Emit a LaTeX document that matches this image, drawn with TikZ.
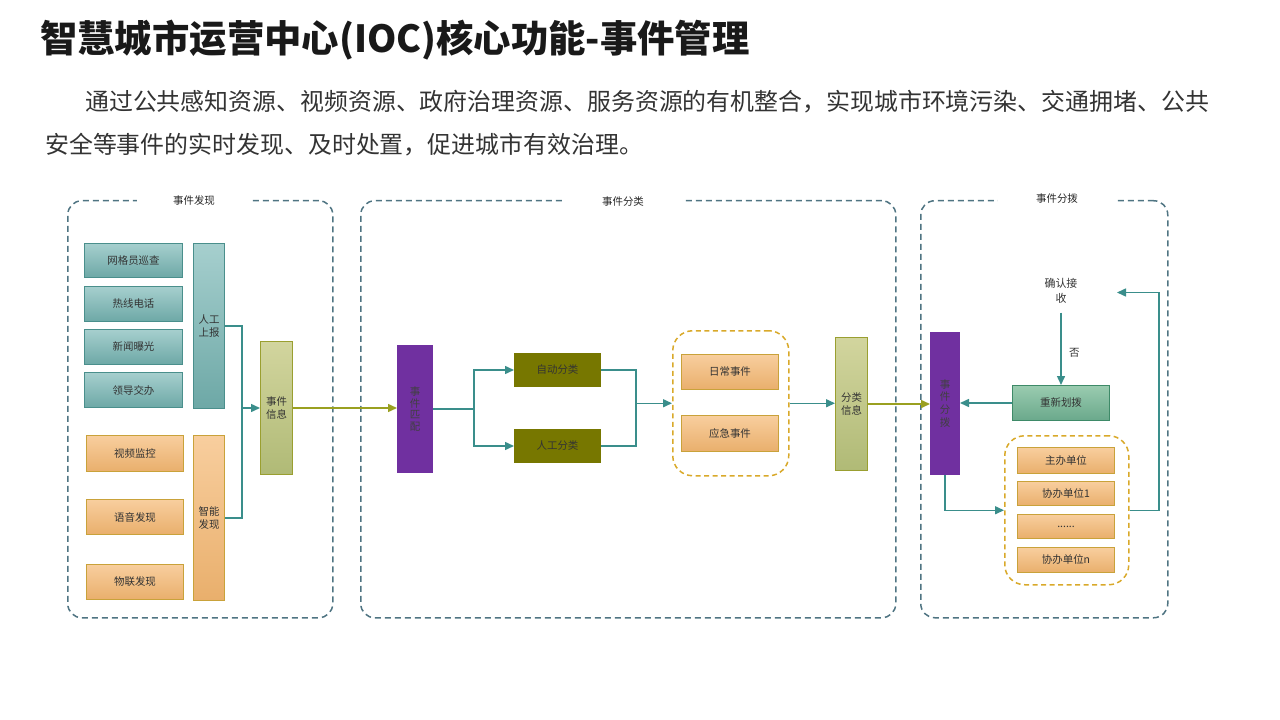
\documentclass[tikz,border=0pt]{standalone}
\usepackage{fontspec}
\setmainfont{Noto Sans CJK SC}
\usetikzlibrary{arrows.meta}
\definecolor{tealT}{HTML}{A6CFCE}
\definecolor{tealBt}{HTML}{6DA8A6}
\definecolor{tealD}{HTML}{4A8F8C}
\definecolor{orT}{HTML}{F8CE9E}
\definecolor{orB}{HTML}{E9AF6C}
\definecolor{orD}{HTML}{C9A23A}
\definecolor{olT}{HTML}{D2D59E}
\definecolor{olB}{HTML}{B0BA76}
\definecolor{olD}{HTML}{9A9F30}
\definecolor{dkol}{HTML}{777700}
\definecolor{purp}{HTML}{7030A0}
\definecolor{grT}{HTML}{9ACBB0}
\definecolor{grB}{HTML}{6AA98B}
\definecolor{grD}{HTML}{3E8A68}
\definecolor{frameC}{HTML}{4F7482}
\definecolor{lineC}{HTML}{3A8E8B}
\definecolor{olline}{HTML}{9AA020}
\definecolor{contC}{HTML}{D9A92A}
\definecolor{txt}{HTML}{333333}
\newcommand{\fs}{\fontsize{10.5}{13}\selectfont}
\tikzset{
 base/.style={draw, line width=1bp, inner sep=0pt, anchor=north west, font=\fs, text=txt, align=center},
 tealbox/.style={base, draw=tealD, top color=tealT, bottom color=tealBt},
 orbox/.style={base, draw=orD, top color=orT, bottom color=orB},
 olbox/.style={base, draw=olD, top color=olT, bottom color=olB},
 dkbox/.style={base, draw=dkol, fill=dkol},
 purbox/.style={base, draw=purp, fill=purp, text=black!75},
 grbox/.style={base, draw=grD, top color=grT, bottom color=grB},
 frame/.style={draw=frameC, line width=1.5bp, dash pattern=on 6bp off 4bp, rounded corners=14bp, inner sep=0pt, anchor=north west},
 cont/.style={draw=contC, line width=1.5bp, dash pattern=on 5bp off 3.5bp, rounded corners=20bp, inner sep=0pt, anchor=north west},
 glabel/.style={fill=white, inner xsep=36bp, inner ysep=2pt, font=\fs, text=black!85},
 conn/.style={draw=lineC, line width=1.5bp},
 arr/.style={conn, -{Triangle[length=9bp,width=8bp]}},
 olarr/.style={draw=olline, line width=1.5bp, -{Triangle[length=9bp,width=8bp]}},
}
\begin{document}
\begin{tikzpicture}[x=1bp,y=-1bp]
\useasboundingbox (0,0) rectangle (1280,720);
% title and text
\node[anchor=west, inner sep=0pt, font=\fontsize{37.5}{40}\selectfont\bfseries, text=black!90] (title) at (40,40) {智慧城市运营中心(IOC)核心功能-事件管理};
\node[anchor=west, inner sep=0pt, font=\fontsize{24}{28}\selectfont, text=txt] (p1) at (85,102) {通过公共感知资源、视频资源、政府治理资源、服务资源的有机整合，实现城市环境污染、交通拥堵、公共};
\node[anchor=west, inner sep=0pt, font=\fontsize{24}{28}\selectfont, text=txt] (p2) at (45,145) {安全等事件的实时发现、及时处置，促进城市有效治理。};
% frames
\node[frame, minimum width=265bp, minimum height=417bp] (f1) at (67,200) {};
\node[frame, minimum width=535bp, minimum height=417bp] (f2) at (360,200) {};
\node[frame, minimum width=247bp, minimum height=417bp] (f3) at (920,200) {};
\node[glabel] (l1) at (194,201) {事件发现};
\node[glabel, inner xsep=40bp] (l2) at (623,202) {事件分类};
\node[glabel, inner xsep=38bp] (l3) at (1057,199) {事件分拨};
% group 1
\node[tealbox, minimum width=98bp, minimum height=34bp] (a1) at (84,243) {网格员巡查};
\node[tealbox, minimum width=98bp, minimum height=35bp] (a2) at (84,286) {热线电话};
\node[tealbox, minimum width=98bp, minimum height=35bp] (a3) at (84,329) {新闻曝光};
\node[tealbox, minimum width=98bp, minimum height=35bp] (a4) at (84,372) {领导交办};
\node[tealbox, minimum width=31bp, minimum height=165bp] (rg) at (193,243) {人工\\上报};
\node[orbox, minimum width=97bp, minimum height=36bp] (b1) at (86,435) {视频监控};
\node[orbox, minimum width=97bp, minimum height=35bp] (b2) at (86,499) {语音发现};
\node[orbox, minimum width=97bp, minimum height=35bp] (b3) at (86,564) {物联发现};
\node[orbox, minimum width=31bp, minimum height=165bp] (zn) at (193,435) {智能\\发现};
\node[olbox, minimum width=32bp, minimum height=133bp] (info) at (260,341) {事件\\信息};
\path (info.west) ++(-18,0) coordinate (j1);
\draw[conn] (rg.east) -| (j1);
\draw[conn] (zn.east) -| (j1);
\draw[arr] (j1) -- (info.west);
% group 2
\node[purbox, minimum width=35bp, minimum height=127bp, font=\fontsize{10.5}{12}\selectfont] (match) at (397,345) {事\\件\\匹\\配};
\draw[olarr] (info.east) -- (info.east -| match.west);
\node[dkbox, minimum width=86bp, minimum height=33bp] (auto) at (514,353) {自动分类};
\node[dkbox, minimum width=86bp, minimum height=33bp] (man) at (514,429) {人工分类};
\path (match.east) ++(41,0) coordinate (j2);
\draw[conn] (match.east) -- (j2);
\draw[arr] (j2) |- (auto.west);
\draw[arr] (j2) |- (man.west);
\node[cont, minimum width=116bp, minimum height=145bp] (c1) at (672,330) {};
\node[orbox, minimum width=97bp, minimum height=35bp] (d1) at (681,354) {日常事件};
\node[orbox, minimum width=97bp, minimum height=36bp] (d2) at (681,415) {应急事件};
\path (c1.west) ++(-36,0) coordinate (j3);
\draw[conn] (auto.east) -| (j3);
\draw[conn] (man.east) -| (j3);
\draw[arr] (j3) -- (c1.west);
\node[olbox, minimum width=32bp, minimum height=133bp] (cls) at (835,337) {分类\\信息};
\draw[arr] (c1.east) -- (c1.east -| cls.west);
% group 3
\node[purbox, minimum width=29bp, minimum height=142bp] (disp) at (930,332) {事\\件\\分\\拨};
\draw[olarr] (cls.east) -- (cls.east -| disp.west);
\node[font=\fontsize{11}{15}\selectfont, text=txt, align=center, inner sep=0pt] (conf) at (1061,291) {确认接\\收};
\node[grbox, minimum width=97bp, minimum height=35bp] (re) at (1012,385) {重新划拨};
\draw[arr, shorten <=9bp] (conf.south) -- (conf.south |- re.north) node[pos=0.6, right=4bp, font=\fs, text=txt] {否};
\draw[arr] (re.west) -- (re.west -| disp.east);
\node[cont, minimum width=124bp, minimum height=149bp] (c2) at (1004,435) {};
\node[orbox, minimum width=97bp, minimum height=26bp] (e1) at (1017,447) {主办单位};
\node[orbox, minimum width=97bp, minimum height=24bp] (e2) at (1017,481) {协办单位1};
\node[orbox, minimum width=97bp, minimum height=24bp] (e3) at (1017,514) {......};
\node[orbox, minimum width=97bp, minimum height=25bp] (e4) at (1017,547) {协办单位n};
\draw[arr] (disp.south) |- (c2.west);
\coordinate (j5) at (1159,292.5);
\coordinate (fb) at (1117,292.5);
\draw[arr] (c2.east) -| (j5) -- (fb);
\end{tikzpicture}
\end{document}
